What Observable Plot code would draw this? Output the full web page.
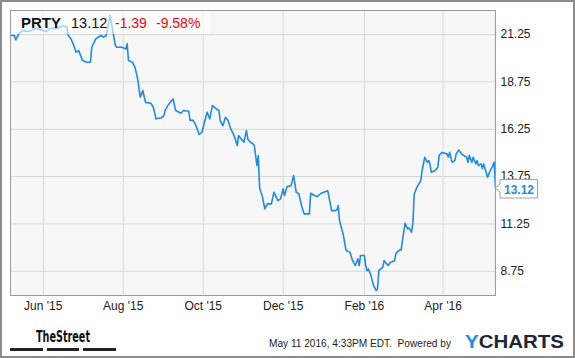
<!DOCTYPE html>
<html><head><meta charset="utf-8">
<script src="https://cdn.jsdelivr.net/npm/d3@7"></script>
<script src="https://cdn.jsdelivr.net/npm/@observablehq/plot@0.6"></script>
<style>html,body{margin:0;padding:0;background:#fff} #chart svg{display:block}</style>
</head><body><div id="chart"></div>
<script>
const ticker = "PRTY";
const lastPriceText = "13.12";
const changeText = "-1.39";
const changePctText = "-9.58%";
const stampText = "May 11 2016, 4:33PM EDT.  Powered by";
const brandLeft = "TheStreet";

const dates = [
"2015-05-07","2015-05-10","2015-05-11","2015-05-13","2015-05-16","2015-05-21","2015-05-26","2015-05-30",
"2015-06-03","2015-06-06","2015-06-12","2015-06-16","2015-06-19","2015-06-20","2015-06-22","2015-06-24",
"2015-06-26","2015-06-28","2015-06-29","2015-07-01","2015-07-04","2015-07-07","2015-07-08","2015-07-11",
"2015-07-15","2015-07-17","2015-07-19","2015-07-22","2015-07-24","2015-07-26","2015-07-27","2015-07-31",
"2015-08-03","2015-08-04","2015-08-05","2015-08-08","2015-08-10","2015-08-12","2015-08-14","2015-08-16",
"2015-08-18","2015-08-22","2015-08-24","2015-08-26","2015-08-30","2015-09-01","2015-09-02","2015-09-04",
"2015-09-06","2015-09-08","2015-09-10","2015-09-14","2015-09-16","2015-09-20","2015-09-21","2015-09-23",
"2015-09-25","2015-09-28","2015-09-30","2015-10-02","2015-10-04","2015-10-06","2015-10-08","2015-10-11",
"2015-10-13","2015-10-14","2015-10-16","2015-10-18","2015-10-20","2015-10-22","2015-10-24","2015-10-25",
"2015-10-27","2015-10-28","2015-10-30","2015-11-01","2015-11-03","2015-11-04","2015-11-06","2015-11-08",
"2015-11-09","2015-11-10","2015-11-11","2015-11-12","2015-11-13","2015-11-14","2015-11-15","2015-11-17",
"2015-11-19","2015-11-22","2015-11-24","2015-11-27","2015-11-29","2015-12-01","2015-12-02","2015-12-04",
"2015-12-07","2015-12-09","2015-12-11","2015-12-13","2015-12-15","2015-12-17","2015-12-21","2015-12-22",
"2015-12-25","2015-12-27","2015-12-30","2016-01-03","2016-01-04","2016-01-07","2016-01-09","2016-01-11",
"2016-01-12","2016-01-13","2016-01-16","2016-01-18","2016-01-21","2016-01-23","2016-01-25","2016-01-27",
"2016-01-28","2016-01-29","2016-02-01","2016-02-02","2016-02-03","2016-02-04","2016-02-06","2016-02-08",
"2016-02-10","2016-02-11","2016-02-12","2016-02-15","2016-02-16","2016-02-18","2016-02-19","2016-02-21",
"2016-02-24","2016-02-25","2016-02-27","2016-02-29","2016-03-01","2016-03-03","2016-03-05","2016-03-06",
"2016-03-08","2016-03-09","2016-03-10","2016-03-12","2016-03-15","2016-03-16","2016-03-18","2016-03-20",
"2016-03-21","2016-03-22","2016-03-23","2016-03-26","2016-03-28","2016-03-29","2016-03-31","2016-04-04",
"2016-04-05","2016-04-06","2016-04-08","2016-04-10","2016-04-11","2016-04-13","2016-04-15","2016-04-17",
"2016-04-19","2016-04-20","2016-04-21","2016-04-23","2016-04-24","2016-04-26","2016-04-27","2016-04-28",
"2016-04-30","2016-05-01","2016-05-02","2016-05-03","2016-05-05","2016-05-07","2016-05-09","2016-05-10",
"2016-05-11"
];
const prices = [
21.20,21.20,20.97,21.25,21.46,21.41,21.57,21.51,
21.41,21.57,21.57,21.73,21.64,21.20,21.04,20.72,
20.32,20.40,20.23,19.88,19.79,19.79,20.58,21.02,
21.20,21.11,21.20,22.25,21.46,20.67,20.58,20.58,
20.49,20.76,19.88,19.79,19.52,18.91,17.94,18.29,
17.67,17.62,17.41,16.80,16.85,16.97,17.24,17.50,
17.67,17.85,17.24,17.09,17.24,17.20,16.71,16.74,
16.53,15.97,16.09,16.62,17.15,16.80,17.50,17.32,
17.24,16.71,16.44,16.88,16.71,16.27,16.00,15.83,
15.39,15.92,15.74,15.56,16.18,15.74,15.56,15.48,
15.39,14.86,14.33,14.86,13.18,12.92,12.75,12.04,
12.31,12.31,12.92,12.48,12.57,13.10,12.75,13.22,
13.27,13.80,12.92,12.85,12.22,11.78,11.78,12.87,
12.75,12.69,12.87,12.97,13.01,11.95,11.95,11.99,
12.22,11.43,10.63,9.84,9.75,9.31,9.05,9.40,
9.05,9.58,9.58,9.05,8.78,8.87,8.52,7.99,
7.73,7.82,8.78,8.96,9.31,9.14,9.05,9.22,
9.31,9.67,9.84,9.88,10.37,11.28,10.99,11.04,
10.81,11.33,12.83,13.18,13.54,14.07,14.77,14.50,
14.59,14.42,13.98,14.07,14.24,14.86,15.02,14.95,
14.77,15.03,14.50,14.59,14.95,15.16,14.95,14.86,
14.77,14.50,14.86,14.50,14.77,14.42,14.59,14.33,
14.42,14.16,14.42,14.16,13.71,14.07,14.33,14.51,
13.12
];
const yTicks = [8.75, 11.25, 13.75, 16.25, 18.75, 21.25];
const xTickDates = ["2015-06-01","2015-08-01","2015-10-01","2015-12-01","2016-02-01","2016-04-01"];
const xTickLabels = ["Jun '15","Aug '15","Oct '15","Dec '15","Feb '16","Apr '16"];
const xDomain = ["2015-05-07","2016-05-11"];
const yDomain = [7.47, 22.52];

const data = dates.map((d, i) => ({date: new Date(d), price: prices[i]}));
const xTicks = xTickDates.map(d => new Date(d));
const last = data[data.length - 1];
const FONT = "'Liberation Sans', Arial, Helvetica, sans-serif";
const BLUE = "#1e8ae6";
const RED = "#f5000a";

function decor(index, scales, values, dimensions) {
  const W = dimensions.width, H = dimensions.height;
  const g = d3.create("svg:g").attr("font-family", FONT).attr("text-anchor", "start");
  // outer border
  g.append("rect").attr("x", 1).attr("y", 1).attr("width", W - 2).attr("height", H - 2)
    .attr("fill", "none").attr("stroke", "#8c8c8c").attr("stroke-width", 2);
  // title veil
  g.append("rect").attr("x", 11).attr("y", 11).attr("width", 199).attr("height", 23)
    .attr("fill", "#fff").attr("fill-opacity", 0.6);
  g.append("text").attr("x", 21).attr("y", 28).attr("font-size", 15).attr("font-weight", "bold")
    .attr("fill", "#111").text(ticker);
  g.append("text").attr("x", 71).attr("y", 28).attr("font-size", 14.5)
    .attr("fill", "#111").text(lastPriceText);
  g.append("text").attr("x", 115).attr("y", 28).attr("font-size", 14)
    .attr("fill", RED).text(changeText);
  g.append("text").attr("x", 156).attr("y", 28).attr("font-size", 14)
    .attr("fill", RED).text(changePctText);
  // last price tag
  const px = scales.x(last.date), py = scales.y(last.price);
  g.append("path")
    .attr("d", `M${px},${py}L${px+5},${py-4}L${px+5},${py-8.5}L${px+42.5},${py-8.5}L${px+42.5},${py+10}L${px+5},${py+10}L${px+5},${py+4}Z`)
    .attr("fill", "#fff").attr("stroke", "#a0a0a0").attr("stroke-width", 1);
  g.append("text").attr("x", px + 9).attr("y", py + 5.5).attr("font-size", 12).attr("font-weight", "bold")
    .attr("fill", BLUE).text(lastPriceText);
  // footer left brand
  g.append("text").attr("x", 36).attr("y", 342).attr("font-size", 15).attr("font-weight", "bold")
    .attr("font-family", "'Liberation Sans Narrow', 'DejaVu Sans Condensed', " + FONT)
    .attr("textLength", 54).attr("lengthAdjust", "spacingAndGlyphs").attr("fill", "#111").text(brandLeft);
  [[10, 33], [47, 32], [83, 33]].forEach(([x, w]) =>
    g.append("rect").attr("x", x).attr("y", 348).attr("width", w).attr("height", 3).attr("fill", "#222"));
  // footer right
  g.append("text").attr("x", 269).attr("y", 347).attr("font-size", 11).attr("fill", "#222")
    .attr("xml:space", "preserve").attr("textLength", 182).attr("lengthAdjust", "spacingAndGlyphs").text(stampText);
  const yc = g.append("text").attr("x", 465).attr("y", 348).attr("font-size", 17.5).attr("font-weight", "900")
    .attr("textLength", 99).attr("lengthAdjust", "spacingAndGlyphs");
  yc.append("tspan").attr("fill", "#1a90e6").text("Y");
  yc.append("tspan").attr("fill", "#1c2733").text("CHARTS");
  return g.node();
}

const chart = Plot.plot({
  width: 575, height: 358,
  marginTop: 10, marginLeft: 10, marginRight: 80, marginBottom: 63,
  style: {fontFamily: FONT, fontSize: "12px", color: "#222", background: "#fff", overflow: "visible"},
  x: {type: "utc", domain: xDomain.map(d => new Date(d)), ticks: xTicks,
      tickFormat: d => xTickLabels[xTicks.findIndex(t => +t === +d)], tickSize: 0, tickPadding: 6, label: null},
  y: {domain: yDomain, ticks: yTicks, tickFormat: d => d.toFixed(2), tickSize: 0, tickPadding: 5,
      label: null, axis: "right"},
  marks: [
    Plot.frame({fill: "#f7f7f7", stroke: "none"}),
    Plot.ruleY(yTicks, {stroke: "#d8d8d8"}),
    Plot.ruleX(xTicks, {stroke: "#d8d8d8"}),
    Plot.line(data, {x: "date", y: "price", stroke: BLUE, strokeWidth: 1.6}),
    Plot.frame({stroke: "#9a9a9a"}),
    decor
  ]
});
document.getElementById("chart").appendChild(chart);
</script>
</body></html>
